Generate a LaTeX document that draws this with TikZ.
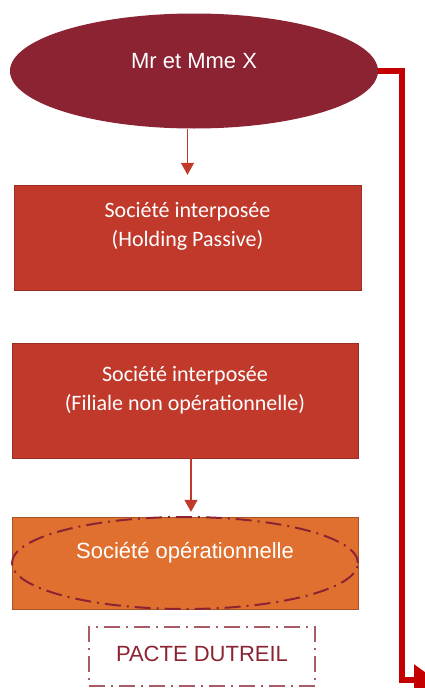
\documentclass[tikz,border=0pt]{standalone}
\usepackage{fontspec}
\setmainfont{Liberation Sans}
\newfontfamily\calibri{Carlito}
\usetikzlibrary{shapes.geometric,positioning,arrows.meta}
\definecolor{bordeaux}{HTML}{8B2332}
\definecolor{brique}{HTML}{C0392B}
\definecolor{orangeop}{HTML}{E07030}
\definecolor{rouge}{HTML}{C40000}

\begin{document}
\begin{tikzpicture}[x=1pt,y=-1pt,
    boite/.style={rectangle, draw=brique!80!black, fill=brique, inner sep=0pt},
    texte/.style={text=white, align=center, font=\calibri\fontsize{22}{29}\selectfont},
    fleche/.style={draw=brique, line width=1.5pt, -{Triangle[width=13pt,length=12pt]}},
    pointille/.style={dash pattern=on 16pt off 6pt on 2pt off 6pt}]
  \useasboundingbox (0,0) rectangle (424,688);

  % les associes
  \node[ellipse, fill=bordeaux, minimum width=368pt, minimum height=115pt, inner sep=0pt] (parents) at (194,71) {};
  \node[anchor=base, text=white, font=\fontsize{22}{26}\selectfont] (parentstxt) at ([yshift=3pt]parents.center) {Mr et Mme X};

  % les societes
  \node[boite, minimum width=347pt, minimum height=105pt] (holding) at (187.5,237.5) {};
  \node[texte, anchor=base] (holdingtxt) at ([yshift=-62pt]holding.north) {Société interposée\\(Holding Passive)};

  \node[boite, minimum width=346pt, minimum height=115pt] (filiale) at (185,400.5) {};
  \node[texte, anchor=base] (filialetxt) at ([yshift=-68pt]filiale.north) {Société interposée\\(Filiale non opérationnelle)};

  \node[boite, fill=orangeop, draw=orangeop!75!black, minimum width=346pt, minimum height=92pt] (operation) at (185,563) {};
  \node[ellipse, draw=bordeaux, line width=2pt, pointille, minimum width=346pt, minimum height=92pt, inner sep=0pt] (cercle) at (operation.center) {};
  \node[anchor=base, text=white, font=\fontsize{22}{26}\selectfont] (operationtxt) at ([yshift=-42pt]operation.north) {Société opérationnelle};

  % le pacte
  \node[rectangle, draw=bordeaux!75!white, line width=1.5pt, pointille, minimum width=226pt, minimum height=59pt] (pacte) at (202,656.5) {};
  \node[anchor=base, text=bordeaux, font=\fontsize{22}{26}\selectfont] (pactetxt) at ([yshift=-4.5pt]pacte.center) {PACTE DUTREIL};

  % fleches
  \draw[fleche] (holding.north |- parents.south) -- ([yshift=10pt]holding.north);
  \draw[fleche] ([xshift=6pt]filiale.south) -- ([xshift=6pt,yshift=5pt]operation.north);

  \coordinate (coin) at (402,680);
  \coordinate (bout) at (436,680);
  \draw[rouge, line width=5.5pt, -{Triangle[width=30pt,length=22pt]}] (parents.east) -| (coin) -- (bout);
\end{tikzpicture}
\end{document}
